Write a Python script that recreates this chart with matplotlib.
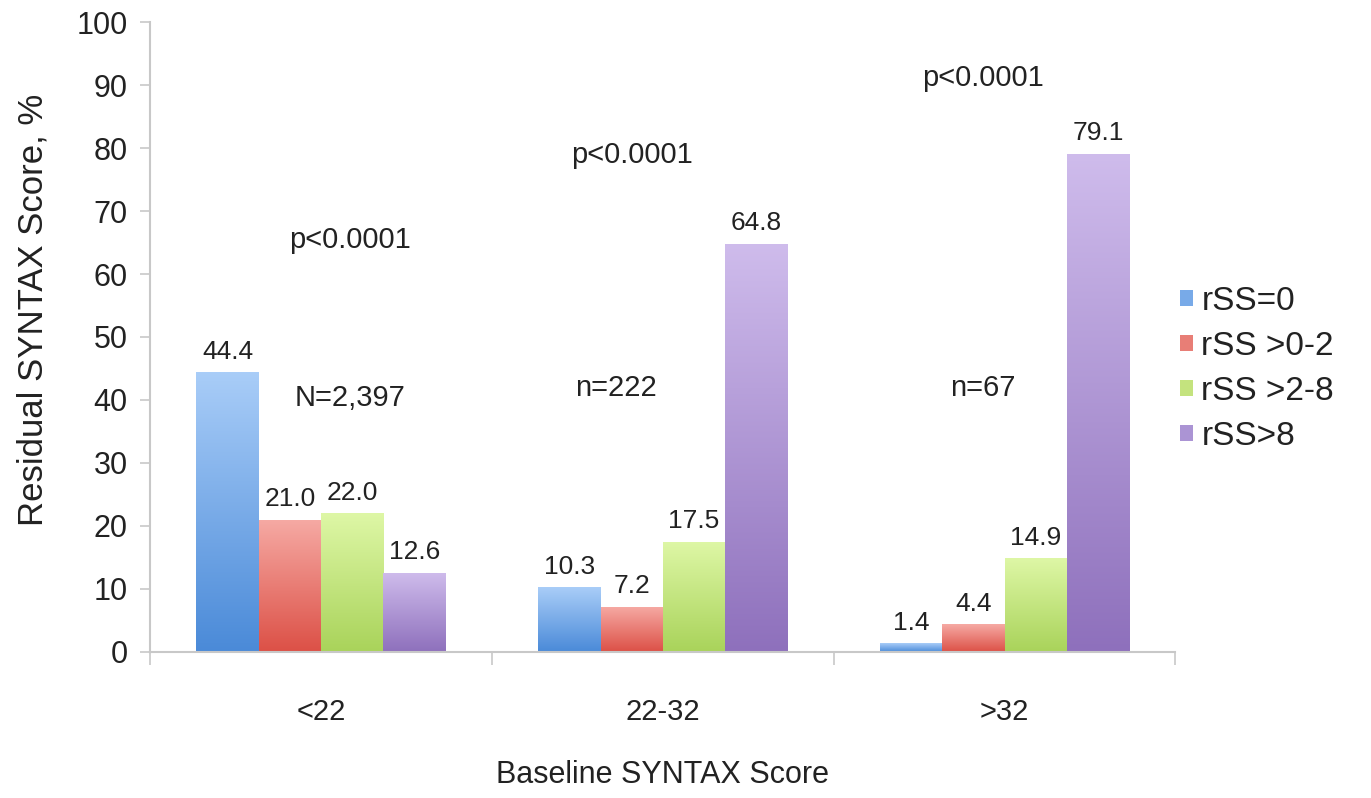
import numpy as np
import matplotlib
matplotlib.use("Agg")
import matplotlib.pyplot as plt
from matplotlib.colors import LinearSegmentedColormap
from matplotlib.patches import Patch

plt.rcParams['font.family'] = ['Liberation Sans', 'DejaVu Sans']

groups = ['<22', '22-32', '>32']
series = ['rSS=0', 'rSS >0-2', 'rSS >2-8', 'rSS>8']
rss_0 = [44.4, 10.3, 1.4]
rss_0_2 = [21.0, 7.2, 4.4]
rss_2_8 = [22.0, 17.5, 14.9]
rss_8 = [12.6, 64.8, 79.1]
values = [rss_0, rss_0_2, rss_2_8, rss_8]

p_labels = ['p<0.0001', 'p<0.0001', 'p<0.0001']
n_labels = ['N=2,397', 'n=222', 'n=67']

# (top, bottom) colours of each bar's vertical gradient
shades = [('#a9cdf8', '#4a8ad8'),
          ('#f6aaa4', '#dc5046'),
          ('#def7a6', '#a9d35a'),
          ('#cfbcec', '#8e70bc')]
swatch = ['#78aae8', '#e87e76', '#c4e37e', '#ab94d4']

fig = plt.figure(figsize=(13.71, 7.98), dpi=100)
ax = fig.add_axes([0.1094, 0.183, 0.748, 0.7894])

x = np.arange(len(groups))
width = 0.182
grad = np.linspace(0, 1, 256).reshape(-1, 1)

for k, (vals, (top, bottom)) in enumerate(zip(values, shades)):
    cmap = LinearSegmentedColormap.from_list('g%d' % k, [bottom, top])
    xs = x + (k - 1.5) * width
    bars = ax.bar(xs, vals, width, color='none', edgecolor='none')
    for b, v in zip(bars, vals):
        x0 = b.get_x()
        im = ax.imshow(grad, cmap=cmap, aspect='auto', origin='lower',
                       extent=(x0, x0 + width, 0, v), zorder=2)
        im.set_clip_path(b)
        ax.annotate('%.1f' % v, (x0 + width / 2, v), xytext=(0, 6),
                    textcoords='offset points', ha='center', va='bottom',
                    fontsize=19, color='#222222')

# significance and sample size notes per group
p_pos = [(0.086, 65.4), (0.911, 78.9), (1.936, 91.1)]
n_pos = [(0.086, 40.3), (0.862, 41.9), (1.936, 41.9)]
for lab, (px, py) in zip(p_labels, p_pos):
    ax.text(px, py, lab, ha='center', va='center', fontsize=21, color='#222222')
for lab, (px, py) in zip(n_labels, n_pos):
    ax.text(px, py, lab, ha='center', va='center', fontsize=21, color='#222222')

ax.set_xlim(-0.5, 2.5)
ax.set_ylim(0, 100)
ax.set_yticks(np.arange(0, 101, 10))
ax.set_xticks(x)
ax.set_xticklabels(groups)
ax.set_xticks([-0.5, 0.5, 1.5, 2.5], minor=True)

for s in ['top', 'right']:
    ax.spines[s].set_visible(False)
for s in ['left', 'bottom']:
    ax.spines[s].set_color('#c8c8c8')
    ax.spines[s].set_linewidth(1.5)

ax.tick_params(axis='y', length=7, width=1.2, color='#c8c8c8', pad=9,
               labelsize=22, labelcolor='#222222')
ax.tick_params(axis='x', which='major', length=0, pad=33,
               labelsize=21, labelcolor='#222222')
ax.tick_params(axis='x', which='minor', length=9, width=1.2, color='#c8c8c8')

ax.set_ylabel('Residual SYNTAX Score, %', fontsize=25, color='#222222')
ax.yaxis.set_label_coords(-0.098, 0.543)
ax.set_xlabel('Baseline SYNTAX Score', fontsize=22, color='#222222')
ax.xaxis.set_label_coords(0.5, -0.172)

handles = [Patch(facecolor=c, edgecolor='none', label=lab)
           for c, lab in zip(swatch, series)]
fig.legend(handles=handles, loc='center left', bbox_to_anchor=(0.8605, 0.5376),
           frameon=False, fontsize=24, handlelength=0.4, handleheight=0.4,
           handletextpad=0.25, labelspacing=0.42, borderpad=0, borderaxespad=0,
           labelcolor='#222222')

fig.savefig('out.png', dpi=100)
